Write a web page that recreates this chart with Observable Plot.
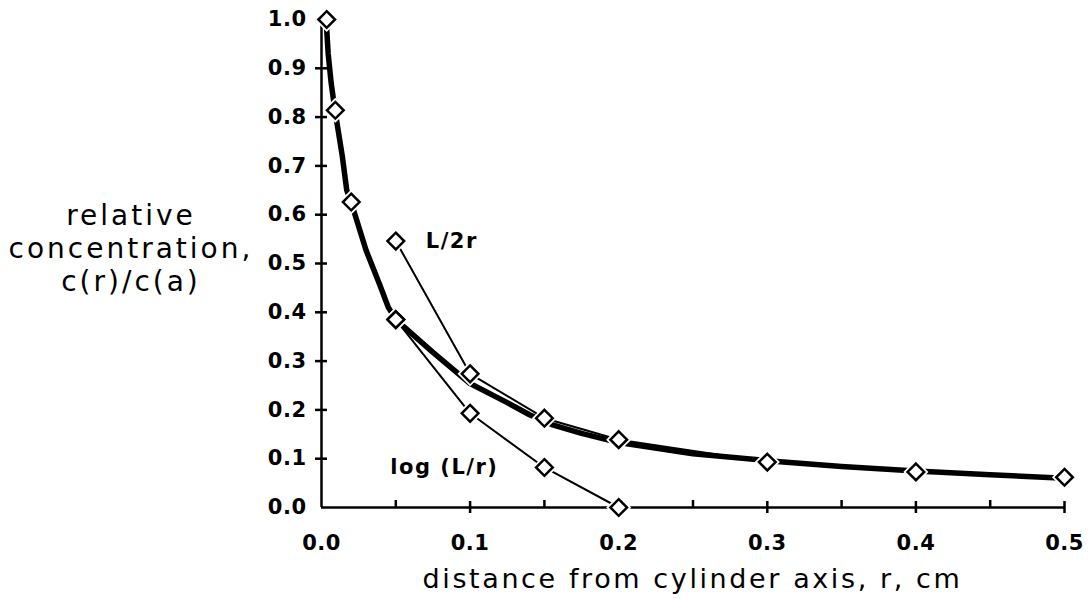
<!DOCTYPE html>
<html><head><meta charset="utf-8">
<script src="https://cdn.jsdelivr.net/npm/d3@7"></script>
<script src="https://cdn.jsdelivr.net/npm/@observablehq/plot@0.6"></script>
<style>
html,body{margin:0;padding:0;background:#fff}
#wrap{position:relative;width:1089px;height:607px;overflow:hidden;background:#fff}
#ytitle{position:absolute;left:0;top:199px;width:262px;text-align:center;font-family:"DejaVu Sans",sans-serif;font-size:28px;letter-spacing:3px;line-height:33px;color:#000}
#xtitle{position:absolute;left:321px;width:743px;top:563px;text-align:center;font-family:"DejaVu Sans",sans-serif;font-size:27px;letter-spacing:2.6px;color:#000}
</style>
</head><body>
<div id="wrap">
<div id="chart"></div>
<div id="ytitle">relative<br>concentration,<br>c(r)/c(a)</div>
<div id="xtitle">distance from cylinder axis, r, cm</div>
</div>
<script>
// tick values
const xTicks = [0, 0.1, 0.2, 0.3, 0.4, 0.5];
const xMinorTicks = [0.05, 0.15, 0.25, 0.35, 0.45];
const yTicks = [0, 0.1, 0.2, 0.3, 0.4, 0.5, 0.6, 0.7, 0.8, 0.9, 1.0];

// thick curve (exact solution)
const exactR = [0.0035, 0.0045, 0.0065, 0.009, 0.014, 0.017, 0.02, 0.03, 0.039, 0.045, 0.05, 0.075, 0.1, 0.125, 0.14, 0.155, 0.175, 0.2, 0.25, 0.3, 0.35, 0.4, 0.45, 0.5];
const exactC = [0.98, 0.93, 0.87, 0.815, 0.72, 0.65, 0.625, 0.527, 0.458, 0.41, 0.385, 0.318, 0.254, 0.215, 0.19, 0.17, 0.152, 0.133, 0.11, 0.096, 0.084, 0.075, 0.067, 0.06];
// markers on thick curve
const exactMarkR = [0.0035, 0.0093, 0.02, 0.05];
const exactMarkC = [1.0, 0.814, 0.626, 0.385];
// L/2r approximation
const halfR = [0.05, 0.1, 0.15, 0.2, 0.3, 0.4, 0.5];
const halfC = [0.546, 0.274, 0.183, 0.139, 0.093, 0.073, 0.062];
// log(L/r) approximation
const logR = [0.05, 0.1, 0.15, 0.2];
const logC = [0.385, 0.193, 0.082, 0.0];

const seriesLabels = ["L/2r", "log (L/r)"];

const zip = (xs, ys) => xs.map((r, i) => ({r, c: ys[i]}));
const exact = zip(exactR, exactC);
const exactMarks = zip(exactMarkR, exactMarkC);
const half = zip(halfR, halfC);
const logs = zip(logR, logC);
const allMarks = [...exactMarks, ...half, ...logs];

const chart = Plot.plot({
  width: 1089,
  height: 562,
  marginLeft: 321,
  marginRight: 25,
  marginTop: 19,
  marginBottom: 55,
  x: {domain: [0, 0.5], label: null},
  y: {domain: [0, 1], label: null},
  style: {background: "white", color: "black", fontFamily: "DejaVu Sans", overflow: "visible"},
  marks: [
    Plot.ruleY([0], {strokeWidth: 2.5}),
    Plot.ruleX([0], {strokeWidth: 2.5}),
    Plot.axisY(yTicks.slice(1), {tickSize: 12, dx: 6, strokeWidth: 2.5, tickFormat: () => "", label: null}),
    Plot.axisY(yTicks, {tickSize: 0, tickPadding: 15, tickFormat: d3.format(".1f"), label: null, fontFamily: "DejaVu Sans", fontSize: 21, fontWeight: "bold"}),
    Plot.axisX(xTicks.slice(1), {tickSize: 12, dy: -6, strokeWidth: 2.5, tickFormat: () => "", label: null}),
    Plot.axisX(xMinorTicks, {tickSize: 7, dy: -7, strokeWidth: 2.5, tickFormat: () => "", label: null}),
    Plot.axisX(xTicks, {tickSize: 0, tickPadding: 28, tickFormat: d3.format(".1f"), label: null, fontFamily: "DejaVu Sans", fontSize: 21, fontWeight: "bold"}),
    Plot.line(exact, {x: "r", y: "c", stroke: "black", strokeWidth: 5.5}),
    Plot.line(half, {x: "r", y: "c", stroke: "black", strokeWidth: 2}),
    Plot.line(logs, {x: "r", y: "c", stroke: "black", strokeWidth: 2}),
    Plot.dot(allMarks, {x: "r", y: "c", symbol: "diamond2", r: 7.5, fill: "white", stroke: "white", strokeWidth: 6}),
    Plot.dot(allMarks, {x: "r", y: "c", symbol: "diamond2", r: 7.5, fill: "white", stroke: "black", strokeWidth: 2.5}),
    Plot.text([half[0]], {x: "r", y: "c", text: () => seriesLabels[0], textAnchor: "start", dx: 30, fontFamily: "DejaVu Sans", fontSize: 21, fontWeight: "bold"}),
    Plot.text([logs[2]], {x: "r", y: "c", text: () => seriesLabels[1], textAnchor: "end", dx: -46, fontFamily: "DejaVu Sans", fontSize: 21, fontWeight: "bold"})
  ]
});
// widen glyph spacing to match the reference's wide face
d3.select(chart).selectAll("g[aria-label='y-axis tick label'] text, g[aria-label='x-axis tick label'] text").style("letter-spacing", "0.5px");
d3.select(chart).selectAll("g[aria-label='text'] text").style("letter-spacing", "1.5px");
document.getElementById("chart").appendChild(chart);
</script>
</body></html>
